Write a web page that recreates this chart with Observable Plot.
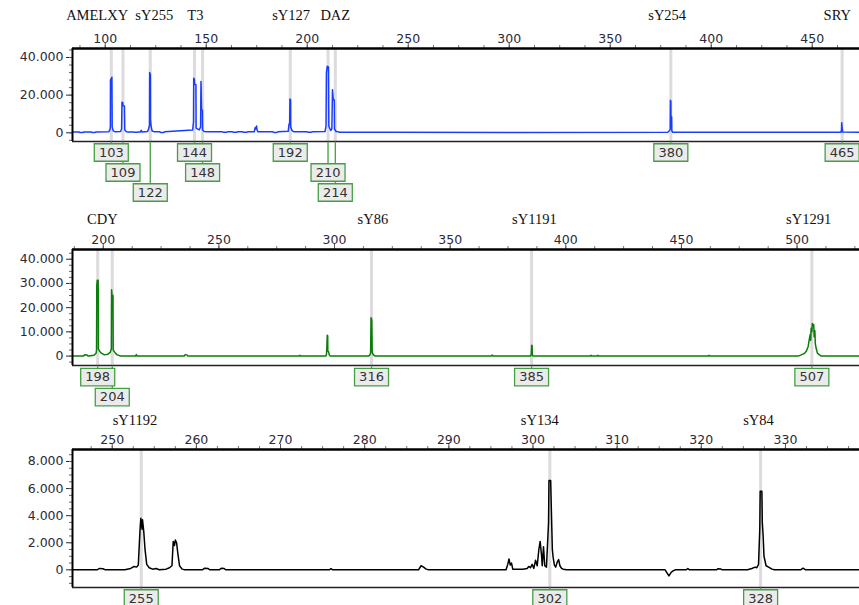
<!DOCTYPE html>
<html><head><meta charset="utf-8">
<script src="https://cdn.jsdelivr.net/npm/d3@7"></script>
<script src="https://cdn.jsdelivr.net/npm/@observablehq/plot@0.6"></script>
<style>
body{margin:0;background:#fff;}
#chart{width:859px;}
#chart svg{display:block;overflow:visible;}
</style></head><body><div id="chart"></div>
<script>
// ---------- Panel 1 (blue) ----------
const p1Markers = ["AMELXY","sY255","T3","sY127","DAZ","sY254","SRY"];
const p1MarkerPos = [96, 124.3, 144.6, 192, 213.9, 378.2, 462.4];
const p1Alleles = ["103","109","122","144","148","192","210","214","380","465"];
const p1AllelePos = [103.0, 108.8, 122.3, 144.2, 148.2, 191.6, 210.3, 213.9, 380.0, 464.8];
const p1XTicks = [100,150,200,250,300,350,400,450];
const p1YTicks = [0,20000,40000];
const p1TraceX = [83.8,87,87.5,89,89.5,93,93.5,95,95.5,101.8,102.4,102.55,102.6,103.3,103.45,104,105,107.6,108.1,108.3,108.7,108.8,109.5,109.7,110.5,111.5,114,114.5,116,116.5,117.5,117.8,118.2,121,121.6,121.9,122.0,122.35,122.4,122.7,123.2,124.5,127,127.4,129,129.4,143.3,143.6,143.7,143.8,144.1,144.2,144.9,145.0,146.5,147.2,147.4,147.7,148.1,148.2,149,150.5,158,158.5,160,160.5,163,163.5,165,165.5,168,168.5,170,170.5,173.8,174.2,174.5,174.9,175.2,175.6,183,183.5,185,185.5,190.6,191.0,191.3,191.45,191.75,191.8,192.5,193.5,200,200.5,202,202.5,208.8,209.3,209.5,209.9,210.5,210.7,211.6,212.2,212.5,212.9,213.4,213.5,214.3,215.5,216,240,300,378.5,379.4,379.7,379.8,380.0,380.05,380.4,380.5,381,464.2,464.5,464.6,464.8,465.1,473.4];
const p1TraceY = [450,450,150,150,450,450,200,200,450,600,1800,3500,28000,29500,3000,1000,500,700,2000,16200,16000,14400,14200,1500,600,450,450,250,250,450,450,1300,450,700,2500,4000,32000,31000,7200,3500,1000,500,500,200,200,500,1500,5000,5500,29000,28500,25800,25500,2500,1500,3000,27200,12300,12000,1500,700,500,500,250,250,500,500,250,250,500,500,250,250,500,500,2700,2000,3600,1500,500,500,200,200,500,800,4700,4500,18000,17500,3000,1200,500,500,250,250,500,700,3500,32000,35300,35000,3500,1200,2000,22900,17700,17500,2000,700,500,300,250,200,300,1200,2000,17300,16800,8600,8400,1000,300,300,1500,5400,2500,400,300];

// ---------- Panel 2 (green) ----------
const p2Markers = ["CDY","sY86","sY1191","sY1291"];
const p2MarkerPos = [199.6, 316.6, 386.4, 505];
const p2Alleles = ["198","204","316","385","507"];
const p2AllelePos = [197.6, 203.9, 316.0, 385.2, 506.4];
const p2XTicks = [200,250,300,350,400,450,500];
const p2YTicks = [0,10000,20000,30000,40000];
const p2TraceX = [186.7,191.5,192,193,193.5,196,196.9,197.1,197.2,197.4,197.8,197.9,198.4,199.2,200.5,202,203,203.5,203.6,203.8,204.2,204.3,205,206,207.5,214,214.3,214.6,235,235.4,236.2,236.6,284.7,285,285.3,296.2,296.5,296.7,296.85,297.05,297.1,297.4,297.8,298.3,314.8,315.3,315.6,315.8,316.1,316.3,316.8,317.6,367.8,368.2,368.6,384.8,385.1,385.25,385.45,385.5,385.8,410.6,410.9,411.2,413.6,413.9,414.2,461.6,461.9,462.2,500.5,501.8,503,504,504.8,505.3,505.7,505.9,506.1,506.4,506.6,506.9,507.2,507.4,507.7,507.9,508.3,508.8,509.7,510.5,527];
const p2TraceY = [0,0,500,400,0,300,1200,2500,29000,31300,31300,3000,2000,1200,500,800,1500,3000,27400,25000,25000,2500,1500,500,0,0,600,0,0,600,500,0,0,300,0,0,500,3800,8600,8400,2000,1800,300,0,0,500,1200,15800,15000,1500,500,0,0,400,0,0,1000,4500,4300,800,0,0,300,0,0,300,0,0,300,0,0,500,1000,2000,4000,7000,9000,6500,11500,10000,13500,12500,13000,8000,10500,5000,3000,1200,500,0,0];

// ---------- Panel 3 (black) ----------
const p3Markers = ["sY1192","sY134","sY84"];
const p3MarkerPos = [252.7, 300.8, 326.8];
const p3Alleles = ["255","302","328"];
const p3AllelePos = [253.45, 302.0, 327.05];
const p3XTicks = [250,260,270,280,290,300,310,320,330];
const p3YTicks = [0,2000,4000,6000,8000];
const p3TraceX = [245.3,248.2,248.5,248.9,249.2,251.5,252.2,252.6,252.9,253.1,253.3,253.4,253.55,253.6,253.75,253.9,254.1,254.4,254.8,255.2,255.6,256.4,256.8,257.1,257.25,257.4,257.5,257.65,257.8,258.0,258.3,258.6,260.7,261.0,261.4,261.6,262.7,263.0,263.3,263.5,275.8,276.0,276.2,286.4,286.7,287.0,287.3,287.6,296.8,297.0,297.15,297.3,297.45,297.6,298.8,299.3,299.5,299.7,299.9,300.1,300.3,300.5,300.7,300.85,301.0,301.1,301.25,301.4,301.6,301.85,301.9,302.1,302.2,302.3,302.4,302.55,302.7,302.9,303.05,303.2,303.4,303.6,304,315.7,316.0,316.15,316.4,316.6,316.9,318.2,318.4,318.6,321.8,322.0,322.3,322.5,325.5,326.0,326.4,326.6,326.8,326.95,327.0,327.2,327.25,327.35,327.45,327.7,328.0,328.4,328.7,331.8,332.1,332.4,338.8];
const p3TraceY = [0,0,100,80,0,0,100,250,200,350,2900,3800,3000,3700,2800,1500,400,150,50,100,0,50,150,300,2100,1800,2200,2000,1200,300,50,0,0,120,100,0,0,120,100,0,0,80,0,0,300,200,50,0,0,400,800,350,500,50,50,100,250,150,400,100,700,300,1500,2100,1200,300,1700,300,200,3500,6600,6600,4000,1500,900,350,200,600,750,300,100,50,0,0,-300,-450,-200,-100,0,0,100,0,0,80,60,0,0,100,200,150,400,3000,5800,5800,3500,2500,1000,300,200,50,0,0,120,0,0];

// ---------- helpers ----------
const fmt = d3.formatLocale({decimal: ",", thousands: ".", grouping: [3], currency: ["", ""]}).format(",.0f");
const boxSymbol = {draw(ctx) { ctx.rect(-17, -8.75, 34, 17.5); }};
const vline = (len) => ({draw(ctx) { ctx.moveTo(0, 0); ctx.lineTo(0, len); }});
const GREEN_BOX = "#45a045";

function panel(cfg) {
  const W = 859, ml = 72, mr = 0;
  const {height, mt, mb, xd, yd, xTicks, xMinorStep, yTicks, yMinorStep, color, nameDy, boxDy} = cfg;
  const ph = height - mt - mb;
  const ky = (yd[1] - yd[0]) / ph;
  const kx = (xd[1] - xd[0]) / (W - ml - mr);
  const sx = d3.scaleLinear(xd, [ml, W - mr]);
  const trace = cfg.traceX.map((x, i) => ({x, y: cfg.traceY[i]}));
  const markers = cfg.markers.map((name, i) => ({name, x: cfg.markerPos[i]}));
  let prevPx = null, prevRow = -1;
  const alleles = cfg.alleles.map((label, i) => {
    const x = cfg.allelePos[i], px = sx(x);
    const row = (prevPx !== null && Math.abs(px - prevPx) < 40) ? prevRow + 1 : 0;
    prevPx = px; prevRow = row;
    return {label, x, row};
  });
  const nRows = d3.max(alleles, d => d.row) + 1;
  const xMinor = d3.range(Math.ceil(xd[0] / xMinorStep) * xMinorStep, xd[1], xMinorStep);
  const yMinor = d3.range(Math.ceil(yd[0] / yMinorStep) * yMinorStep, yd[1], yMinorStep);
  const bottom = () => yd[0], top = () => yd[1];
  const connectors = [], boxes = [], labels = [];
  for (let r = 0; r < nRows; r++) {
    const sub = alleles.filter(d => d.row === r);
    const dy = boxDy + 20 * r;
    connectors.push(Plot.dot(sub, {x: "x", y: bottom, symbol: vline(dy - 8.75), stroke: GREEN_BOX, fill: "none", strokeWidth: 1.3}));
    boxes.push(Plot.dot(sub, {x: "x", y: bottom, dy, symbol: boxSymbol, fill: "#ebebeb", stroke: GREEN_BOX, strokeWidth: 1.3}));
    labels.push(Plot.text(sub, {x: "x", y: bottom, dy, text: "label", fontSize: 13, fill: "#333", fontFamily: "DejaVu Sans"}));
  }
  return Plot.plot({
    width: W, height, marginLeft: ml, marginRight: mr, marginTop: mt, marginBottom: mb,
    style: {fontFamily: "DejaVu Sans", fontSize: "12.5px", color: "#2a2a3a", background: "#fff", overflow: "visible"},
    x: {domain: xd, nice: false, axis: "top", ticks: xTicks, tickFormat: d => d, tickSize: 0, tickPadding: 6, label: null},
    y: {domain: yd, nice: false, ticks: yTicks, tickFormat: fmt, tickSize: 6, tickPadding: 3, label: null},
    marks: [
      Plot.ruleX(cfg.allelePos, {stroke: "#dedbde", strokeWidth: 3}),
      Plot.line(trace, {x: "x", y: "y", stroke: color, strokeWidth: 1.5}),
      Plot.ruleX(xMinor, {y1: yd[1], y2: yd[1] + 3 * ky, stroke: "#777"}),
      Plot.ruleX(xTicks, {y1: yd[1], y2: yd[1] + 5 * ky, stroke: "#555"}),
      Plot.ruleY(yMinor, {x1: xd[0] - 3 * kx, x2: xd[0], stroke: "#666"}),
      Plot.ruleY([yd[1]], {stroke: "#000", strokeWidth: 2.5}),
      Plot.ruleY([yd[0]], {stroke: "#222", strokeWidth: 1.5}),
      Plot.ruleX([xd[0]], {stroke: "#000", strokeWidth: 2}),
      ...connectors, ...boxes, ...labels,
      Plot.text(markers, {x: "x", y: top, dy: nameDy, text: "name", fontFamily: "Liberation Serif", fontSize: 14.5, fill: "#111"})
    ]
  });
}

const chart = document.getElementById("chart");
chart.append(panel({
  height: 200, mt: 48, mb: 59, xd: [83.8, 473.4], yd: [-4620, 44780],
  xTicks: p1XTicks, xMinorStep: 12.5, yTicks: p1YTicks, yMinorStep: 4000,
  traceX: p1TraceX, traceY: p1TraceY, color: "#1a3cff",
  markers: p1Markers, markerPos: p1MarkerPos, alleles: p1Alleles, allelePos: p1AllelePos,
  nameDy: -33, boxDy: 11
}));
chart.append(panel({
  height: 205, mt: 49, mb: 40, xd: [186.7, 527.0], yd: [-3890, 44015],
  xTicks: p2XTicks, xMinorStep: 12.5, yTicks: p2YTicks, yMinorStep: 2500,
  traceX: p2TraceX, traceY: p2TraceY, color: "#0a7d0a",
  markers: p2Markers, markerPos: p2MarkerPos, alleles: p2Alleles, allelePos: p2AllelePos,
  nameDy: -30, boxDy: 11.6
}));
chart.append(panel({
  height: 200, mt: 44, mb: 18, xd: [245.28, 338.8], yd: [-1306, 8886],
  xTicks: p3XTicks, xMinorStep: 2.5, yTicks: p3YTicks, yMinorStep: 500,
  traceX: p3TraceX, traceY: p3TraceY, color: "#000",
  markers: p3Markers, markerPos: p3MarkerPos, alleles: p3Alleles, allelePos: p3AllelePos,
  nameDy: -29, boxDy: 11
}));
</script>
</body></html>
